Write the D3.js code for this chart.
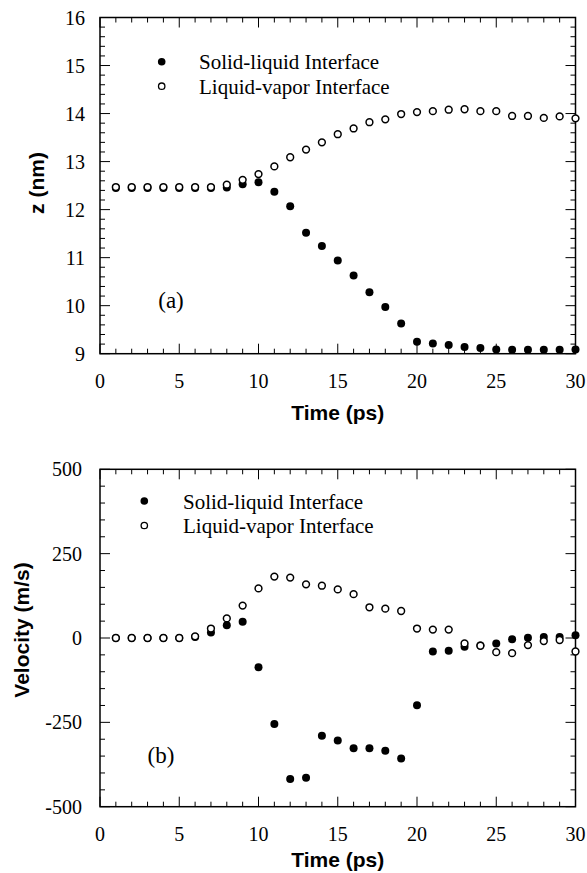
<!DOCTYPE html>
<html>
<head>
<meta charset="utf-8">
<script src="https://cdn.jsdelivr.net/npm/d3@7"></script>
<style>
  html, body { margin: 0; padding: 0; background: #fff; }
  svg { display: block; }
</style>
</head>
<body>
<svg id="chart" width="587" height="873"></svg>
<script>
// Interface positions and velocities during melting / evaporation
const time = [1,2,3,4,5,6,7,8,9,10,11,12,13,14,15,16,17,18,19,20,21,22,23,24,25,26,27,28,29,30];

const zSolidLiquid = [12.45,12.45,12.45,12.45,12.45,12.45,12.45,12.46,12.53,12.57,12.37,12.07,11.52,11.24,10.94,10.63,10.28,9.97,9.63,9.25,9.21,9.18,9.14,9.12,9.09,9.08,9.08,9.08,9.08,9.09];
const zLiquidVapor = [12.47,12.47,12.47,12.47,12.47,12.47,12.47,12.52,12.62,12.74,12.90,13.09,13.25,13.40,13.57,13.69,13.82,13.88,13.99,14.03,14.05,14.08,14.09,14.05,14.05,13.95,13.95,13.91,13.94,13.90];

const vSolidLiquid = [0,0,0,0,0,3,16,38,48,-87,-255,-418,-414,-290,-304,-327,-327,-334,-357,-199,-40,-38,-26,-22,-16,-4,1,3,3,8];
const vLiquidVapor = [0,0,0,0,0,5,28,58,96,147,182,179,159,155,144,130,91,87,80,28,25,25,-16,-23,-42,-45,-21,-9,-6,-40];

const xTicks = [0,5,10,15,20,25,30];
const zTicks = [9,10,11,12,13,14,15,16];
const vTicks = [-500,-250,0,250,500];
const legendLabels = ["Solid-liquid Interface", "Liquid-vapor Interface"];

const serif = "'Liberation Serif', 'Times New Roman', serif";
const sans = "'Liberation Sans', Arial, Helvetica, sans-serif";

const svg = d3.select("#chart");

function panel(cfg) {
  const g = svg.append("g");
  const x = d3.scaleLinear().domain([0, 30]).range([100, 575.5]);
  const y = d3.scaleLinear().domain(cfg.domain).range([cfg.bottom, cfg.top]);

  // Inward ticks on all four sides: major and minor
  const xMinor = d3.range(0, 31, 1);
  const yMinor = d3.range(cfg.domain[0], cfg.domain[1] + cfg.minorStep / 2, cfg.minorStep);
  const majorLen = 10, minorLen = 5;

  const tickG = g.append("g").attr("stroke", "#000").attr("stroke-width", 1);
  xMinor.forEach(t => {
    const len = (t % 5 === 0) ? majorLen : minorLen;
    tickG.append("line").attr("x1", x(t)).attr("x2", x(t)).attr("y1", cfg.bottom).attr("y2", cfg.bottom - len);
    tickG.append("line").attr("x1", x(t)).attr("x2", x(t)).attr("y1", cfg.top).attr("y2", cfg.top + len);
  });
  yMinor.forEach(v => {
    const isMajor = cfg.ticks.some(t => Math.abs(t - v) < 1e-6);
    const len = isMajor ? majorLen : minorLen;
    tickG.append("line").attr("x1", 100).attr("x2", 100 + len).attr("y1", y(v)).attr("y2", y(v));
    tickG.append("line").attr("x1", 575.5).attr("x2", 575.5 - len).attr("y1", y(v)).attr("y2", y(v));
  });

  // Frame
  g.append("rect")
    .attr("x", 100).attr("y", cfg.top)
    .attr("width", 475.5).attr("height", cfg.bottom - cfg.top)
    .attr("fill", "none").attr("stroke", "#000").attr("stroke-width", 1.5);

  // Tick labels
  g.append("g").selectAll("text").data(xTicks).join("text")
    .attr("x", d => x(d)).attr("y", cfg.bottom + 34)
    .attr("text-anchor", "middle")
    .attr("font-family", serif).attr("font-size", 20)
    .text(d => d);

  g.append("g").selectAll("text").data(cfg.ticks).join("text")
    .attr("x", cfg.yLabelRight).attr("y", d => y(d))
    .attr("dy", "0.35em")
    .attr("text-anchor", "end")
    .attr("font-family", serif).attr("font-size", 20)
    .text(d => d);

  // Axis titles
  g.append("text")
    .attr("x", 337.75).attr("y", cfg.xTitleY)
    .attr("text-anchor", "middle")
    .attr("font-family", sans).attr("font-weight", "bold").attr("font-size", 21)
    .text("Time (ps)");

  g.append("text")
    .attr("transform", `translate(${cfg.yTitleX},${cfg.yTitleCenter}) rotate(-90)`)
    .attr("text-anchor", "middle")
    .attr("font-family", sans).attr("font-weight", "bold").attr("font-size", 21)
    .text(cfg.yTitle);

  // Panel letter
  g.append("text")
    .attr("x", cfg.letterX).attr("y", cfg.letterY)
    .attr("text-anchor", "middle")
    .attr("font-family", serif).attr("font-size", 23)
    .text(cfg.letter);

  // Data markers: solid-liquid filled, liquid-vapor open on top
  g.append("g").selectAll("circle").data(time).join("circle")
    .attr("cx", (d) => x(d)).attr("cy", (d, i) => y(cfg.solid[i]))
    .attr("r", 4).attr("fill", "#000");

  g.append("g").selectAll("circle").data(time).join("circle")
    .attr("cx", (d) => x(d)).attr("cy", (d, i) => y(cfg.vapor[i]))
    .attr("r", 3.4).attr("fill", "#fff").attr("stroke", "#000").attr("stroke-width", 1.5);

  // Legend
  const lg = g.append("g");
  lg.append("circle").attr("cx", cfg.legX).attr("cy", cfg.legY).attr("r", 3.8).attr("fill", "#000");
  lg.append("circle").attr("cx", cfg.legX).attr("cy", cfg.legY + 24.5).attr("r", 3.2)
    .attr("fill", "#fff").attr("stroke", "#000").attr("stroke-width", 1.3);
  legendLabels.forEach((lab, i) => {
    lg.append("text")
      .attr("x", cfg.legTextX).attr("y", cfg.legY + 7.5 + i * 24.5)
      .attr("font-family", serif).attr("font-size", 21)
      .text(lab);
  });
}

panel({
  domain: [9, 16], top: 17.5, bottom: 353.7, ticks: zTicks, minorStep: 0.2,
  yLabelRight: 85, xTitleY: 420, yTitle: "z (nm)", yTitleX: 44, yTitleCenter: 183,
  letter: "(a)", letterX: 171, letterY: 308,
  solid: zSolidLiquid, vapor: zLiquidVapor,
  legX: 161.7, legY: 61.7, legTextX: 199
});

panel({
  domain: [-500, 500], top: 469.3, bottom: 806.7, ticks: vTicks, minorStep: 50,
  yLabelRight: 82, xTitleY: 866.5, yTitle: "Velocity (m/s)", yTitleX: 29, yTitleCenter: 630,
  letter: "(b)", letterX: 161, letterY: 763,
  solid: vSolidLiquid, vapor: vLiquidVapor,
  legX: 144.3, legY: 501, legTextX: 183
});
</script>
</body>
</html>
